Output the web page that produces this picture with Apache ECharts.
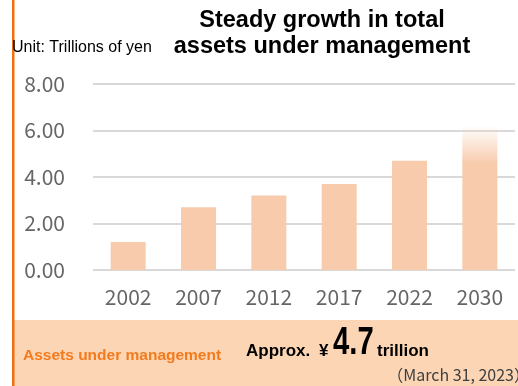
<!DOCTYPE html>
<html>
<head>
<meta charset="utf-8">
<script src="https://cdn.jsdelivr.net/npm/echarts@6/dist/echarts.min.js"></script>
<style>
  html, body { margin: 0; padding: 0; background: #ffffff; }
  #chart { width: 518px; height: 386px; }
</style>
</head>
<body>
<div id="chart"></div>
<script>
// Assets under management, trillions of yen
const years = ['2002', '2007', '2012', '2017', '2022', '2030'];
const assets = [1.2, 2.7, 3.2, 3.7, 4.7, 6.2];
const yTicks = { min: 0, max: 8, interval: 2 };

const titleLines = ['Steady growth in total', 'assets under management'];
const unitText = 'Unit: Trillions of yen';
const footLabel = 'Assets under management';
const footValue = '4.7';
const footDate = '（March 31, 2023）';

const barColor = '#f8cbad';
const lastIndex = years.length - 1;

// The 2030 target bar fades out towards its top
const barData = assets.map((v, i) => i === lastIndex ? {
  value: v,
  itemStyle: {
    color: new echarts.graphic.LinearGradient(0, 0, 0, 1, [
      { offset: 0, color: 'rgba(248,203,173,0)' },
      { offset: 0.26, color: barColor },
      { offset: 1, color: barColor }
    ])
  }
} : v);

const chart = echarts.init(document.getElementById('chart'), null, { renderer: 'canvas' });

chart.setOption({
  animation: false,
  backgroundColor: '#ffffff',
  grid: { left: 93, right: 3, top: 84, bottom: 116, containLabel: false },
  xAxis: {
    type: 'category',
    data: years,
    axisLine: { show: false },
    axisTick: { show: false },
    axisLabel: {
      color: '#666666',
      fontSize: 21,
      fontFamily: 'Noto Sans CJK JP',
      margin: 17
    }
  },
  yAxis: {
    type: 'value',
    min: yTicks.min,
    max: yTicks.max,
    interval: yTicks.interval,
    axisLine: { show: false },
    axisTick: { show: false },
    splitLine: { lineStyle: { color: '#d9d9d9', width: 2 } },
    axisLabel: {
      color: '#666666',
      fontSize: 21,
      fontFamily: 'Noto Sans CJK JP',
      margin: 28,
      formatter: v => v.toFixed(2)
    }
  },
  series: [{
    type: 'bar',
    data: barData,
    barWidth: 35,
    itemStyle: { color: barColor },
    z: 3
  }],
  graphic: [
    // bottom summary band
    {
      type: 'rect', left: 14, top: 320, z: 0,
      shape: { width: 504, height: 66 },
      style: { fill: '#fcd5b5' }
    },
    // orange frame line on the left
    {
      type: 'rect', left: 12, top: 0, z: 10,
      shape: { width: 2.5, height: 386 },
      style: { fill: '#ee7010' }
    },
    {
      type: 'text', x: 322, y: 21, z: 10,
      style: {
        text: titleLines[0], fill: '#000',
        font: 'bold 23.5px "Liberation Sans", Arial, sans-serif',
        align: 'center', verticalAlign: 'middle'
      }
    },
    {
      type: 'text', x: 322, y: 47, z: 10,
      style: {
        text: titleLines[1], fill: '#000',
        font: 'bold 23.5px "Liberation Sans", Arial, sans-serif',
        align: 'center', verticalAlign: 'middle'
      }
    },
    {
      type: 'text', x: 12, y: 48, z: 10,
      style: {
        text: unitText, fill: '#000',
        font: '16px "Liberation Sans", Arial, sans-serif',
        align: 'left', verticalAlign: 'middle'
      }
    },
    {
      type: 'text', x: 23, y: 356, z: 10,
      style: {
        text: footLabel, fill: '#f27b1e',
        font: 'bold 15.5px "Liberation Sans", Arial, sans-serif',
        align: 'left', verticalAlign: 'middle'
      }
    },
    {
      type: 'text', x: 246, y: 360, z: 10,
      style: {
        text: 'Approx.', fill: '#000',
        font: 'bold 17px "Liberation Sans", Arial, sans-serif',
        align: 'left', verticalAlign: 'bottom'
      }
    },
    {
      type: 'text', x: 319, y: 360, z: 10,
      style: {
        text: '¥', fill: '#000',
        font: 'bold 17px "Liberation Sans", Arial, sans-serif',
        align: 'left', verticalAlign: 'bottom'
      }
    },
    {
      type: 'text', x: 333, y: 363, scaleX: 0.75, z: 10,
      style: {
        text: footValue, fill: '#000',
        font: 'bold 39px "Liberation Sans", Arial, sans-serif',
        align: 'left', verticalAlign: 'bottom'
      }
    },
    {
      type: 'text', x: 377, y: 360, z: 10,
      style: {
        text: 'trillion', fill: '#000',
        font: 'bold 17px "Liberation Sans", Arial, sans-serif',
        align: 'left', verticalAlign: 'bottom'
      }
    },
    {
      type: 'text', x: 530, y: 375, z: 10,
      style: {
        text: footDate, fill: '#404040',
        font: '16px "Noto Sans CJK JP", sans-serif',
        align: 'right', verticalAlign: 'middle'
      }
    }
  ]
});
</script>
</body>
</html>
